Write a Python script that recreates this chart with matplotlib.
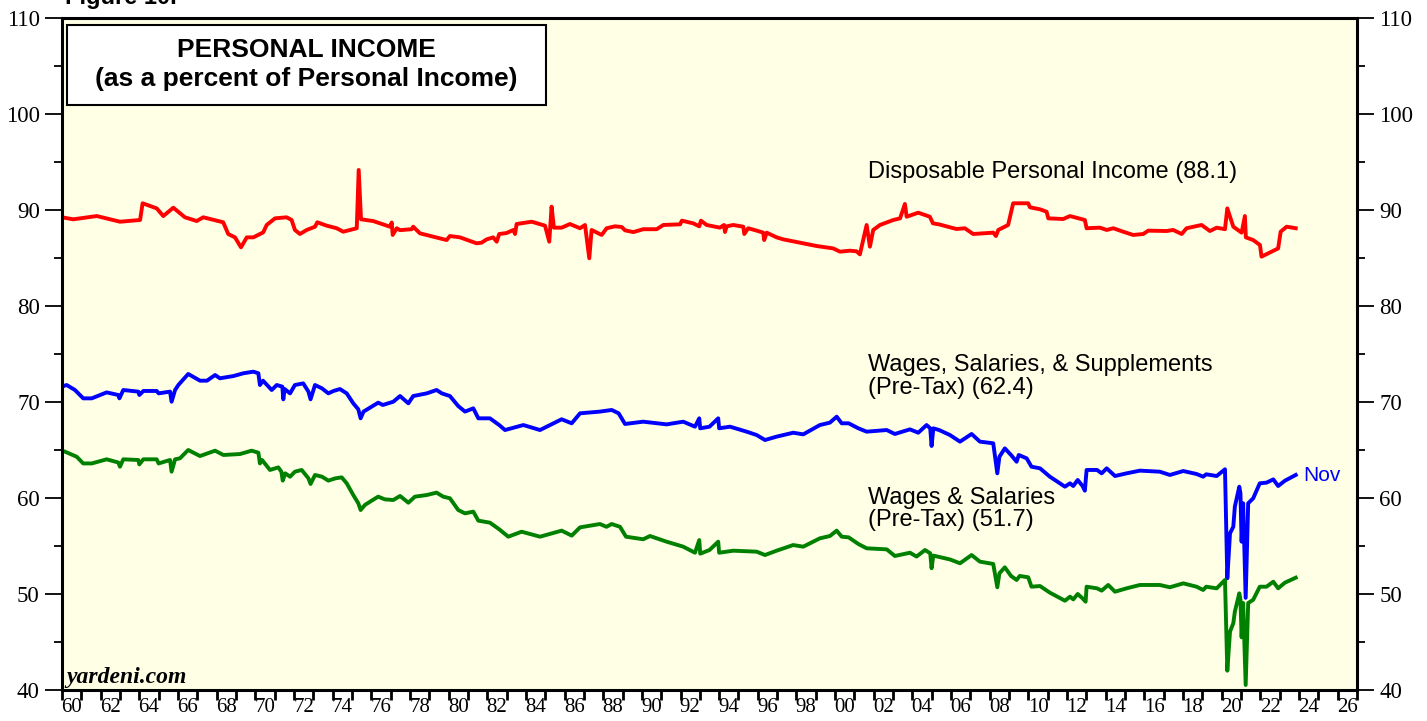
import numpy as np
import matplotlib.pyplot as plt
from matplotlib.patches import Rectangle

plt.rcParams["font.family"] = "Liberation Serif"

# Disposable personal income, % of personal income
dpi_year = [1960.0, 1960.58, 1961.80, 1963.00, 1964.04, 1964.17, 1964.90, 1965.24, 1965.76, 1966.36,
            1966.97, 1967.31, 1968.34, 1968.60, 1968.95, 1969.26, 1969.56, 1969.90, 1970.41, 1970.59,
            1971.02, 1971.62, 1971.88, 1972.05, 1972.31, 1972.66, 1973.09, 1973.21, 1973.69, 1974.21,
            1974.55, 1975.07, 1975.25, 1975.35, 1975.47, 1976.10, 1976.97, 1977.06, 1977.11, 1977.32,
            1977.49, 1978.09, 1978.17, 1978.52, 1979.21, 1979.90, 1980.07, 1980.59, 1981.45, 1981.71,
            1981.97, 1982.31, 1982.49, 1982.62, 1983.00, 1983.35, 1983.44, 1983.52, 1984.30, 1984.99,
            1985.21, 1985.33, 1985.45, 1985.85, 1986.28, 1986.80, 1987.06, 1987.28, 1987.40, 1987.92,
            1988.18, 1988.61, 1988.96, 1989.13, 1989.56, 1990.07, 1990.77, 1991.11, 1991.98, 1992.07,
            1992.66, 1992.97, 1993.06, 1993.35, 1994.04, 1994.25, 1994.30, 1994.39, 1994.73, 1995.25,
            1995.30, 1995.50, 1995.94, 1996.28, 1996.33, 1996.46, 1996.97, 1997.32, 1998.18, 1999.04,
            1999.90, 2000.25, 2000.76, 2001.11, 2001.28, 2001.63, 2001.80, 2001.97, 2002.32, 2003.01,
            2003.36, 2003.61, 2003.70, 2004.30, 2004.90, 2005.06, 2005.38, 2006.28, 2006.71, 2007.14,
            2008.18, 2008.32, 2008.44, 2008.95, 2009.21, 2009.99, 2010.08, 2010.60, 2010.94, 2011.03,
            2011.80, 2012.15, 2012.92, 2013.01, 2013.70, 2014.05, 2014.39, 2014.90, 2015.42, 2015.94,
            2016.20, 2017.15, 2017.49, 2017.93, 2018.18, 2018.96, 2019.39, 2019.74, 2020.17, 2020.29,
            2020.60, 2021.03, 2021.20, 2021.25, 2021.63, 2021.98, 2022.06, 2022.92, 2023.05, 2023.36,
            2023.83]
dpi_val = [89.24, 89.03, 89.37, 88.78, 88.96, 90.70, 90.17, 89.37, 90.24, 89.24,
           88.85, 89.24, 88.72, 87.50, 87.15, 86.11, 87.15, 87.15, 87.67, 88.44,
           89.13, 89.24, 88.96, 87.92, 87.50, 87.92, 88.26, 88.72, 88.37, 88.10,
           87.74, 88.00, 88.10, 94.17, 89.03, 88.85, 88.26, 88.70, 87.40, 88.10,
           87.90, 88.00, 88.26, 87.57, 87.22, 86.87, 87.29, 87.15, 86.53, 86.60,
           86.94, 87.15, 86.70, 87.50, 87.60, 87.92, 87.50, 88.54, 88.78, 88.37,
           86.70, 90.35, 88.16, 88.16, 88.54, 88.10, 88.44, 84.97, 87.92, 87.40,
           88.10, 88.30, 88.23, 87.88, 87.70, 88.00, 88.00, 88.44, 88.51, 88.89,
           88.61, 88.30, 88.89, 88.44, 88.16, 88.44, 87.71, 88.30, 88.44, 88.26,
           87.50, 88.10, 87.85, 87.64, 86.87, 87.64, 87.15, 86.94, 86.60, 86.25,
           86.00, 85.66, 85.76, 85.70, 85.38, 88.44, 86.18, 87.92, 88.44, 88.96,
           89.13, 90.63, 89.30, 89.72, 89.30, 88.61, 88.50, 88.02, 88.10, 87.50,
           87.64, 87.29, 87.92, 88.44, 90.70, 90.70, 90.28, 90.07, 89.82, 89.13,
           89.06, 89.37, 88.96, 88.10, 88.16, 87.92, 88.10, 87.74, 87.40, 87.50,
           87.85, 87.81, 87.92, 87.50, 88.10, 88.44, 87.81, 88.16, 88.00, 90.17,
           88.26, 87.64, 89.37, 87.15, 86.87, 86.35, 85.14, 86.00, 87.74, 88.26,
           88.10]

# Wages, salaries & supplements (pre-tax)
wss_year = [1960.00, 1960.24, 1960.67, 1961.10, 1961.54, 1962.31, 1962.91, 1962.97, 1963.17, 1963.95,
            1964.00, 1964.21, 1964.90, 1965.00, 1965.59, 1965.67, 1965.85, 1966.02, 1966.53, 1967.14,
            1967.50, 1967.92, 1968.17, 1968.86, 1969.38, 1969.90, 1970.16, 1970.24, 1970.40, 1970.85,
            1971.11, 1971.40, 1971.45, 1971.52, 1971.80, 1972.05, 1972.48, 1972.75, 1972.86, 1973.09,
            1973.45, 1973.78, 1974.05, 1974.38, 1974.73, 1975.07, 1975.33, 1975.45, 1975.60, 1976.02,
            1976.36, 1976.60, 1977.14, 1977.49, 1977.92, 1978.17, 1978.87, 1979.38, 1979.65, 1980.07,
            1980.50, 1980.85, 1981.28, 1981.54, 1982.14, 1982.62, 1982.92, 1983.87, 1984.73, 1985.85,
            1986.37, 1986.80, 1987.83, 1988.44, 1988.80, 1989.13, 1990.07, 1991.28, 1992.14, 1992.75,
            1992.97, 1993.02, 1993.50, 1993.95, 1994.00, 1994.56, 1995.42, 1995.94, 1996.37, 1996.97,
            1997.83, 1998.35, 1999.21, 1999.73, 2000.08, 2000.34, 2000.70, 2001.20, 2001.63, 2002.67,
            2003.09, 2003.87, 2004.30, 2004.73, 2004.92, 2004.99, 2005.08, 2005.38, 2005.94, 2006.46,
            2007.06, 2007.49, 2008.18, 2008.39, 2008.50, 2008.78, 2009.10, 2009.39, 2009.50, 2009.91,
            2010.16, 2010.60, 2011.11, 2011.89, 2012.15, 2012.32, 2012.55, 2012.80, 2012.92, 2013.01,
            2013.55, 2013.79, 2014.05, 2014.48, 2015.08, 2015.77, 2016.80, 2017.32, 2018.01, 2018.70,
            2019.04, 2019.20, 2019.74, 2020.17, 2020.29, 2020.43, 2020.60, 2020.68, 2020.91, 2020.97,
            2021.03, 2021.11, 2021.24, 2021.37, 2021.63, 2021.97, 2022.32, 2022.67, 2022.92, 2023.27,
            2023.83]
wss_val = [71.60, 71.77, 71.25, 70.38, 70.38, 71.00, 70.73, 70.38, 71.25, 71.08,
           70.73, 71.15, 71.15, 70.90, 71.08, 70.03, 71.25, 71.77, 72.92, 72.22,
           72.22, 72.81, 72.47, 72.70, 72.99, 73.16, 72.99, 71.77, 72.22, 71.25,
           71.77, 71.60, 70.28, 71.35, 70.90, 71.77, 71.94, 71.08, 70.28, 71.77,
           71.42, 70.90, 71.15, 71.35, 70.90, 69.86, 69.24, 68.30, 69.00, 69.51,
           69.93, 69.69, 70.03, 70.62, 69.86, 70.62, 70.90, 71.25, 70.90, 70.62,
           69.58, 69.00, 69.34, 68.30, 68.30, 67.60, 67.08, 67.60, 67.08, 68.20,
           67.78, 68.82, 69.00, 69.17, 68.82, 67.71, 67.95, 67.67, 67.95, 67.43,
           68.30, 67.26, 67.43, 68.30, 67.26, 67.43, 66.91, 66.56, 66.04, 66.39,
           66.80, 66.63, 67.60, 67.85, 68.47, 67.78, 67.78, 67.26, 66.91, 67.08,
           66.67, 67.15, 66.80, 67.60, 67.26, 65.42, 67.26, 67.08, 66.56, 65.87,
           66.67, 65.87, 65.70, 62.57, 64.30, 65.17, 64.48, 63.78, 64.48, 64.13,
           63.26, 63.09, 62.22, 61.18, 61.53, 61.25, 61.88, 61.25, 60.76, 62.92,
           62.92, 62.57, 63.09, 62.29, 62.57, 62.85, 62.74, 62.40, 62.81, 62.50,
           62.22, 62.47, 62.29, 62.99, 51.63, 56.32, 57.01, 59.10, 61.18, 60.49,
           55.45, 59.45, 49.60, 59.45, 59.97, 61.53, 61.60, 61.94, 61.25, 61.80,
           62.40]

# Wages & salaries (pre-tax)
ws_year = [1960.00, 1960.15, 1960.76, 1961.10, 1961.54, 1962.31, 1962.91, 1963.00, 1963.17, 1963.95,
           1964.00, 1964.21, 1964.90, 1965.00, 1965.59, 1965.67, 1965.85, 1966.10, 1966.53, 1967.14,
           1967.92, 1968.35, 1969.21, 1969.81, 1970.16, 1970.24, 1970.35, 1970.76, 1971.19, 1971.35,
           1971.42, 1971.55, 1971.80, 1972.05, 1972.40, 1972.75, 1972.86, 1973.09, 1973.45, 1973.78,
           1974.15, 1974.47, 1974.73, 1975.07, 1975.33, 1975.45, 1975.67, 1976.02, 1976.36, 1976.70,
           1977.14, 1977.49, 1977.92, 1978.26, 1978.87, 1979.38, 1979.72, 1980.07, 1980.50, 1980.85,
           1981.28, 1981.54, 1982.14, 1982.62, 1983.09, 1983.78, 1984.73, 1985.85, 1986.37, 1986.80,
           1987.83, 1988.17, 1988.44, 1988.87, 1989.18, 1990.07, 1990.42, 1991.28, 1992.14, 1992.75,
           1992.97, 1993.02, 1993.50, 1993.95, 1994.00, 1994.73, 1995.94, 1996.37, 1996.97, 1997.83,
           1998.35, 1999.21, 1999.73, 2000.08, 2000.34, 2000.70, 2001.20, 2001.63, 2002.67, 2003.09,
           2003.87, 2004.21, 2004.65, 2004.92, 2004.99, 2005.08, 2005.38, 2005.94, 2006.46, 2007.06,
           2007.49, 2008.18, 2008.39, 2008.50, 2008.78, 2009.10, 2009.39, 2009.55, 2009.99, 2010.16,
           2010.60, 2011.11, 2011.89, 2012.15, 2012.32, 2012.55, 2012.80, 2012.96, 2013.01, 2013.55,
           2013.79, 2014.13, 2014.48, 2015.08, 2015.77, 2016.80, 2017.32, 2018.01, 2018.70, 2019.04,
           2019.20, 2019.74, 2020.17, 2020.29, 2020.43, 2020.60, 2020.68, 2020.91, 2020.97, 2021.03,
           2021.11, 2021.24, 2021.37, 2021.63, 2021.97, 2022.32, 2022.67, 2022.92, 2023.27, 2023.83]
ws_val = [64.93, 64.83, 64.30, 63.60, 63.60, 64.03, 63.70, 63.26, 64.03, 63.96,
          63.50, 64.03, 64.03, 63.60, 63.96, 62.74, 64.03, 64.13, 65.00, 64.37,
          64.93, 64.48, 64.58, 64.93, 64.72, 63.60, 63.96, 62.92, 63.19, 62.74,
          61.81, 62.57, 62.22, 62.74, 62.92, 62.05, 61.46, 62.40, 62.22, 61.81,
          62.05, 62.15, 61.53, 60.31, 59.45, 58.75, 59.27, 59.72, 60.14, 59.86,
          59.79, 60.21, 59.51, 60.14, 60.31, 60.56, 60.14, 59.97, 58.75, 58.40,
          58.58, 57.64, 57.43, 56.74, 55.97, 56.49, 55.97, 56.60, 56.08, 56.94,
          57.29, 57.00, 57.29, 57.00, 55.97, 55.70, 56.04, 55.45, 54.93, 54.30,
          55.62, 54.20, 54.58, 55.45, 54.30, 54.51, 54.41, 54.06, 54.51, 55.10,
          54.93, 55.80, 56.04, 56.60, 55.97, 55.90, 55.21, 54.76, 54.65, 53.96,
          54.30, 53.90, 54.58, 54.24, 52.68, 54.00, 53.86, 53.60, 53.20, 54.06,
          53.37, 53.13, 50.70, 52.16, 52.78, 51.88, 51.46, 51.88, 51.74, 50.76,
          50.83, 50.14, 49.30, 49.72, 49.44, 50.00, 49.55, 49.20, 50.76, 50.59,
          50.35, 50.94, 50.24, 50.59, 50.94, 50.94, 50.70, 51.11, 50.76, 50.42,
          50.76, 50.59, 51.46, 42.01, 46.08, 46.95, 48.16, 50.07, 49.40, 45.49,
          49.06, 40.52, 49.06, 49.40, 50.76, 50.76, 51.28, 50.59, 51.18, 51.70]

years = np.arange(1960, 2028)
label_years = np.arange(1960, 2027, 2)

fig = plt.figure(figsize=(14.27, 7.21), dpi=100)
ax = fig.add_axes([62 / 1427, 31 / 721, 1295 / 1427, 672 / 721])
ax.set_facecolor("#FFFFE5")

ax.plot(dpi_year, dpi_val, color="#FF0000", lw=2.8, solid_joinstyle="round")
ax.plot(wss_year, wss_val, color="#0000FF", lw=2.8, solid_joinstyle="round")
ax.plot(ws_year, ws_val, color="#008000", lw=2.8, solid_joinstyle="round")

ax.set_xlim(1960, 2027)
ax.set_ylim(40, 110)

# y axis on both sides
ax.set_yticks(np.arange(40, 111, 10))
ax.set_yticks(np.arange(45, 110, 10), minor=True)
ax.tick_params(axis="y", which="major", direction="out", length=12, width=1.3,
               left=True, right=True, labelleft=True, labelright=True,
               labelsize=16.5, pad=4)
ax.tick_params(axis="y", which="minor", direction="out", length=6, width=1.3,
               left=True, right=True)

# x axis: ticks at each year, labels centred between ticks
ax.set_xticks(years)
ax.set_xticklabels([])
ax.set_xticks(label_years + 0.5, minor=True)
ax.set_xticklabels([f"{y % 100:02d}" for y in label_years], minor=True)
ax.tick_params(axis="x", which="major", direction="out", length=7, width=2)
ax.tick_params(axis="x", which="minor", length=0, labelsize=15, pad=6)

for s in ax.spines.values():
    s.set_linewidth(2.2)

# title box
ax.add_patch(Rectangle((0.0039, 0.8705), 0.37, 0.119, transform=ax.transAxes,
                       facecolor="white", edgecolor="black", lw=1.5, zorder=5))
ax.text(0.1884, 0.952, "PERSONAL INCOME", transform=ax.transAxes, ha="center",
        va="center", fontsize=19, fontweight="bold", family="Liberation Sans", zorder=6)
ax.text(0.1884, 0.909, "(as a percent of Personal Income)", transform=ax.transAxes,
        ha="center", va="center", fontsize=19, fontweight="bold",
        family="Liberation Sans", zorder=6)

sans = dict(family="Liberation Sans", fontsize=17, va="center", ha="left")
ax.text(2001.7, 93.96, "Disposable Personal Income (88.1)", **sans)
ax.text(2001.7, 72.66, "Wages, Salaries, & Supplements\n(Pre-Tax) (62.4)",
        linespacing=1.05, **sans)
ax.text(2001.7, 58.85, "Wages & Salaries\n(Pre-Tax) (51.7)", linespacing=1.05, **sans)
ax.text(2024.2, 62.3, "Nov", color="#0000FF", family="Liberation Sans",
        fontsize=15, va="center", ha="left")

ax.text(0.003, 0.011, "yardeni.com", transform=ax.transAxes, fontsize=17,
        fontweight="bold", fontstyle="italic", ha="left", va="baseline")

# partly clipped header, as in the source page
fig.text(65 / 1427, 1 - 4 / 721, "Figure 10.", family="Liberation Sans",
         fontsize=17, fontweight="bold", ha="left", va="baseline")

fig.savefig("out.png", dpi=100)
